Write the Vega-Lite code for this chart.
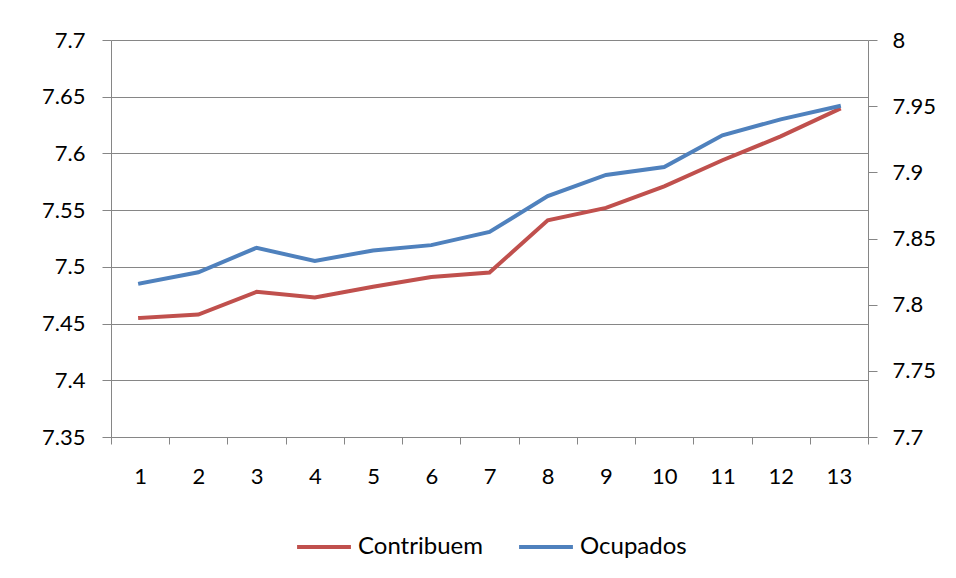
{
  "$schema": "https://vega.github.io/schema/vega-lite/v6.json",
  "width": 757,
  "height": 397,
  "autosize": {"type": "none"},
  "padding": {"left": 111, "top": 40, "right": 88, "bottom": 141},
  "background": "white",
  "config": {
    "font": "Lato",
    "view": {"stroke": null},
    "axis": {"labelFont": "Lato", "labelFontSize": 22, "labelColor": "#000000", "domainColor": "#868686", "tickColor": "#868686", "gridColor": "#868686", "title": null}
  },
  "data": {
    "values": [
      {"periodo": "1", "contribuem": 7.455, "ocupados": 7.816},
      {"periodo": "2", "contribuem": 7.458, "ocupados": 7.8245},
      {"periodo": "3", "contribuem": 7.478, "ocupados": 7.843},
      {"periodo": "4", "contribuem": 7.473, "ocupados": 7.833},
      {"periodo": "5", "contribuem": 7.4825, "ocupados": 7.841},
      {"periodo": "6", "contribuem": 7.491, "ocupados": 7.845},
      {"periodo": "7", "contribuem": 7.495, "ocupados": 7.855},
      {"periodo": "8", "contribuem": 7.541, "ocupados": 7.882},
      {"periodo": "9", "contribuem": 7.552, "ocupados": 7.898},
      {"periodo": "10", "contribuem": 7.571, "ocupados": 7.904},
      {"periodo": "11", "contribuem": 7.594, "ocupados": 7.928},
      {"periodo": "12", "contribuem": 7.615, "ocupados": 7.940},
      {"periodo": "13", "contribuem": 7.639, "ocupados": 7.950}
    ]
  },
  "encoding": {
    "x": {
      "field": "periodo",
      "type": "ordinal",
      "sort": null,
      "bandPosition": 0.5,
      "scale": {"type": "band", "paddingInner": 0, "paddingOuter": 0},
      "axis": {"labelAngle": 0, "tickBand": "extent", "tickSize": 7, "labelPadding": 22, "domainWidth": 1, "grid": false}
    }
  },
  "layer": [
    {
      "mark": {"type": "line", "strokeWidth": 4, "strokeCap": "square"},
      "encoding": {
        "y": {
          "field": "contribuem",
          "type": "quantitative",
          "scale": {"domain": [7.35, 7.7], "zero": false, "nice": false},
          "axis": {"orient": "left", "values": [7.35, 7.4, 7.45, 7.5, 7.55, 7.6, 7.65, 7.7], "grid": true, "tickSize": 9, "labelPadding": 17, "format": "~g"}
        },
        "color": {"datum": "Contribuem", "type": "nominal",
          "scale": {"domain": ["Contribuem", "Ocupados"], "range": ["#C0504D", "#4F81BD"]},
          "legend": {"orient": "none", "legendX": 184, "legendY": 478, "direction": "horizontal", "title": null, "symbolType": "stroke", "symbolSize": 2900, "symbolStrokeWidth": 4, "labelFontSize": 24, "labelFont": "Lato", "labelColor": "#000000", "labelOffset": 5, "columnPadding": 28}
        }
      }
    },
    {
      "mark": {"type": "line", "strokeWidth": 4, "strokeCap": "square"},
      "encoding": {
        "y": {
          "field": "ocupados",
          "type": "quantitative",
          "scale": {"domain": [7.7, 8.0], "zero": false, "nice": false},
          "axis": {"orient": "right", "values": [7.7, 7.75, 7.8, 7.85, 7.9, 7.95, 8.0], "grid": false, "tickSize": 9, "labelPadding": 15, "format": "~g"}
        },
        "color": {"datum": "Ocupados", "type": "nominal"}
      }
    }
  ],
  "resolve": {"scale": {"y": "independent"}}
}
